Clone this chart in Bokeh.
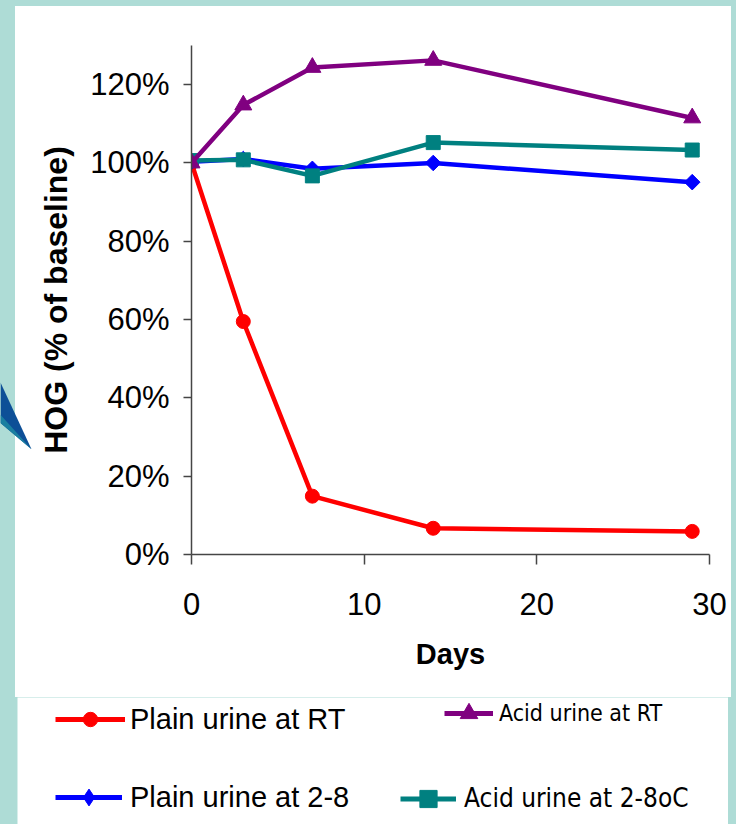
import numpy as np
from bokeh.plotting import figure
from bokeh.layouts import column, row
from bokeh.models import (Legend, LegendItem, PrintfTickFormatter, FixedTicker, Range1d)
from bokeh.embed import file_html
from bokeh.resources import INLINE

# Sampling days and HOG recovery (% of baseline) for each storage condition
days = [0, 3, 7, 14, 29]
plain_rt = [100, 59.5, 14.9, 6.7, 5.9]
acid_rt = [100, 114.8, 124.4, 126.2, 111.5]
plain_cold = [100.3, 101.0, 98.5, 100.0, 95.1]
acid_cold = [100.6, 100.8, 96.7, 105.2, 103.3]

x_ticks = [0, 10, 20, 30]
y_ticks = [0, 20, 40, 60, 80, 100, 120]

names = ["Plain urine at RT", "Acid urine at RT",
         "Plain urine at 2-8", "Acid urine at 2-8oC"]
colors = ["#FF0000", "#800080", "#0000FF", "#008080"]

TEAL = "#AEDCD6"
TOP_H = 697          # height of the chart band; the key band sits below it
KEY_H = 824 - TOP_H
FRAME_TOP, FRAME_BOTTOM = 45, 554   # page rows of the chart's plotting area

# ---- left strip: tip of a callout arrow over the slide edge ----
deco = figure(width=32, height=TOP_H, x_range=Range1d(0, 32),
              y_range=Range1d(FRAME_BOTTOM, FRAME_TOP),
              x_axis_type=None, y_axis_type=None, min_border=0,
              output_backend="svg", toolbar_location=None,
              background_fill_alpha=0, border_fill_alpha=0)
deco.outline_line_color = None
deco.grid.visible = False
deco.patch([0, 31, 0], [384, 450, 424], fill_color="#0D4F97", line_color=None)
deco.patch([0, 31, 0], [416, 450, 424], fill_color="#1A7FA0", line_color=None)

# ---- main chart ----
p = figure(width=699, height=TOP_H - 6, margin=(6, 5, 0, 0),
           output_backend="svg", toolbar_location=None,
           x_range=Range1d(0, 30), y_range=Range1d(0, 130),
           min_border_left=159, min_border_right=22,
           min_border_top=FRAME_TOP - 6, min_border_bottom=TOP_H - FRAME_BOTTOM,
           background_fill_color="white", border_fill_color="white")
p.outline_line_color = None
p.xgrid.visible = False
p.ygrid.visible = False

p.xaxis.ticker = FixedTicker(ticks=x_ticks)
p.yaxis.ticker = FixedTicker(ticks=y_ticks)
p.yaxis.formatter = PrintfTickFormatter(format="%d%%")
for ax in (p.xaxis[0], p.yaxis[0]):
    ax.axis_line_color = "#454545"
    ax.axis_line_width = 1.5
    ax.major_tick_line_color = "#454545"
    ax.major_tick_line_width = 1.5
    ax.major_tick_in = 0
    ax.minor_tick_line_color = None
    ax.major_label_text_font = "Liberation Sans"
    ax.major_label_text_font_size = "31px"
    ax.major_label_text_color = "black"
    ax.axis_label_text_font = "Liberation Sans"
    ax.axis_label_text_font_style = "bold"
    ax.axis_label_text_color = "black"
p.xaxis.major_tick_out = 10
p.yaxis.major_tick_out = 8
p.xaxis.major_label_standoff = 28
p.yaxis.major_label_standoff = 14
p.xaxis.axis_label = "Days"
p.yaxis.axis_label = "HOG (% of baseline)"
p.xaxis.axis_label_text_font_size = "29px"
p.yaxis.axis_label_text_font_size = "32px"
p.xaxis.axis_label_standoff = 20
p.yaxis.axis_label_standoff = 13

lw = 4.5
series = [
    (plain_rt, colors[0], "circle", 0, 14),
    (plain_cold, colors[2], "square", np.pi / 4, 11),
    (acid_cold, colors[3], "square", 0, 14),
    (acid_rt, colors[1], "triangle", 0, 17),
]
for vals, c, mk, ang, sz in series:
    p.line(days, vals, line_color=c, line_width=lw)
    p.scatter(days, vals, marker=mk, angle=ang, size=sz, color=c)

# ---- key band ----
KEY_L, KEY_R = 17, 8
kw = 736 - KEY_L - KEY_R
key = figure(width=kw, height=KEY_H, margin=(0, KEY_R, 0, KEY_L),
             x_range=Range1d(0, kw), y_range=Range1d(0, KEY_H),
             x_axis_type=None, y_axis_type=None, min_border=0,
             output_backend="svg", toolbar_location=None,
             background_fill_color="white", border_fill_color="white")
key.outline_line_color = None
key.grid.visible = False


def add_key(label, vals, color, marker, left, cy, gw, gh, standoff, font, size):
    """One key entry: a swatch of the series' line and marker, glyph box starting
    at page x=left, row centred on page y=cy.  The series renderers here are
    hidden; they only supply the swatch styling."""
    ln = key.line(days, vals, line_color=color, line_width=5, visible=False)
    sc = key.scatter(days, vals, marker=marker, color=color, visible=False)
    lg = Legend(items=[LegendItem(label=label, renderers=[ln, sc])],
                location=(left - KEY_L, 824 - (cy + gh / 2)),
                glyph_width=gw, glyph_height=gh, label_height=0,
                label_standoff=standoff, padding=0, margin=0, spacing=0,
                border_line_color=None, background_fill_alpha=0,
                label_text_font=font, label_text_font_size=size,
                label_text_color="black")
    key.add_layout(lg, "center")


narrow = "Liberation Sans Narrow, DejaVu Sans Condensed, Liberation Sans"
add_key(names[0], plain_rt, colors[0], "circle", 55, 719, 70, 36, 5, "Liberation Sans", "29px")
add_key(names[1], acid_rt, colors[1], "triangle", 444, 713, 49, 44, 6, narrow, "23px")
add_key(names[2], plain_cold, colors[2], "diamond", 55, 797, 67, 42, 8, "Liberation Sans", "29px")
add_key(names[3], acid_cold, colors[3], "square", 400, 798, 56, 43, 8, narrow, "26px")

band_bg = (f"linear-gradient(to bottom, {TEAL} 6px, rgba(0,0,0,0) 6px), "
           f"linear-gradient(to right, {TEAL} 15px, white 15px, white 731px, {TEAL} 731px)")
top = row(deco, p, styles={"background": band_bg})
page = column(top, key, styles={"background-color": TEAL})
open("out.html", "w").write(file_html(page, INLINE))
